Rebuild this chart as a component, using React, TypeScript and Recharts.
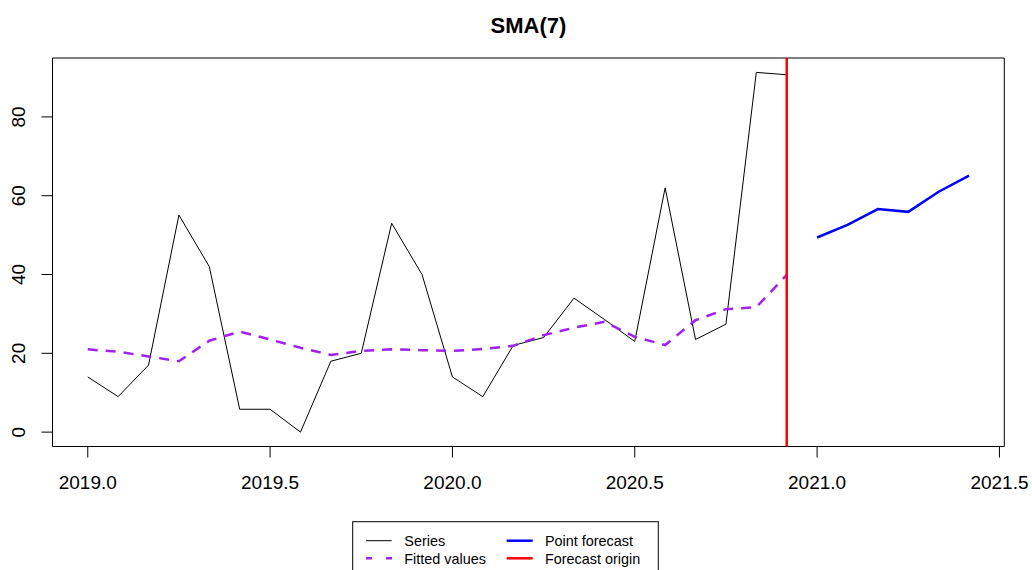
import React from 'react';
import { LineChart, Line, XAxis, YAxis, ReferenceLine, ReferenceArea } from 'recharts';

const START_YEAR = 2019;
const FREQ = 12;
const seriesValues = [14, 9, 17, 55.1, 42, 5.8, 5.8, 0, 18, 20, 53, 40, 14, 9, 22, 24, 34, 28.6, 23, 62, 23.5, 27.4, 91.3, 90.7];
const fittedValues = [21, 20.4, 19.2, 18, 23.2, 25.5, 23.5, 21.4, 19.6, 20.6, 21, 20.8, 20.6, 21.1, 21.9, 24.6, 26.5, 28, 24.2, 22.1, 28.4, 31.2, 31.7, 39.9];
const forecastValues = [49.4, 52.6, 56.6, 55.9, 61, 65.1];
const xTicks = [2019, 2019.5, 2020, 2020.5, 2021, 2021.5];
const yTicks = [0, 20, 40, 60, 80];
const legendLabels = ['Series', 'Fitted values', 'Point forecast', 'Forecast origin'];
const title = 'SMA(7)';

const timeOf = (i: number) => START_YEAR + i / FREQ;
const seriesData = seriesValues.map((v, i) => ({ t: timeOf(i), v }));
const fittedData = fittedValues.map((v, i) => ({ t: timeOf(i), v }));
const forecastData = forecastValues.map((v, i) => ({ t: timeOf(seriesValues.length + i), v }));
const forecastOrigin = timeOf(seriesValues.length - 1);

const allT = [...seriesData, ...forecastData].map((d) => d.t);
const allV = [...seriesValues, ...fittedValues, ...forecastValues];
const tMin = Math.min(...allT), tMax = Math.max(...allT);
const vMin = Math.min(...allV), vMax = Math.max(...allV);
const xDomain = [tMin - (tMax - tMin) * 0.04, tMax + (tMax - tMin) * 0.04];
const yDomain = [vMin - (vMax - vMin) * 0.04, vMax + (vMax - vMin) * 0.04];

const FONT = '"Liberation Sans", Arial, sans-serif';
const PURPLE = '#A020F0';

const XTick = (props: any) => {
  const { x, y, payload } = props;
  return (
    <text x={x} y={y + 31} textAnchor="middle" fontSize={19} fill="#000" fontFamily={FONT}>
      {Number(payload.value).toFixed(1)}
    </text>
  );
};

const YTick = (props: any) => {
  const { x, y, payload } = props;
  const bx = x - 16;
  return (
    <text x={bx} y={y} textAnchor="middle" fontSize={19} fill="#000" fontFamily={FONT} transform={`rotate(-90, ${bx}, ${y})`}>
      {payload.value}
    </text>
  );
};

export default function App() {
  return (
    <div style={{ position: 'relative', width: 1032, height: 570, overflow: 'hidden', background: '#fff' }}>
      <style>{'body{margin:0;overflow:hidden}'}</style>
      <LineChart width={1032} height={570} margin={{ top: 58, right: 27.7, bottom: 0, left: 0 }}>
        <XAxis
          type="number"
          dataKey="t"
          domain={xDomain}
          allowDataOverflow
          ticks={xTicks}
          tickSize={11}
          tickMargin={0}
          height={123.5}
          axisLine={false}
          tickLine={{ stroke: '#000', strokeWidth: 1 }}
          tick={<XTick />}
          interval={0}
        />
        <YAxis
          type="number"
          domain={yDomain}
          allowDataOverflow
          ticks={yTicks}
          tickSize={11}
          tickMargin={0}
          width={52.5}
          axisLine={false}
          tickLine={{ stroke: '#000', strokeWidth: 1 }}
          tick={<YTick />}
          interval={0}
        />
        <ReferenceArea x1={xDomain[0]} x2={xDomain[1]} y1={yDomain[0]} y2={yDomain[1]} fill="none" stroke="#000" strokeWidth={1} fillOpacity={0} ifOverflow="visible" />
        <Line data={seriesData} dataKey="v" type="linear" stroke="#000" strokeWidth={1} dot={false} isAnimationActive={false} />
        <Line data={fittedData} dataKey="v" type="linear" stroke={PURPLE} strokeWidth={2.5} strokeDasharray="10 8" dot={false} isAnimationActive={false} />
        <Line data={forecastData} dataKey="v" type="linear" stroke="#0000FF" strokeWidth={2.5} dot={false} isAnimationActive={false} />
        <ReferenceLine x={forecastOrigin} stroke="#FF0000" strokeWidth={2.5} ifOverflow="visible" />
      </LineChart>
      <svg width={1032} height={570} style={{ position: 'absolute', left: 0, top: 0, pointerEvents: 'none' }}>
        <text x={528.4} y={33} textAnchor="middle" fontSize={22} fontWeight="bold" fill="#000" fontFamily={FONT}>{title}</text>
        <rect x={352.7} y={521.7} width={305.6} height={60} fill="#fff" stroke="#000" strokeWidth={1} />
        <line x1={366} x2={391.7} y1={540.7} y2={540.7} stroke="#000" strokeWidth={1} />
        <text x={404.3} y={546} fontSize={14.4} fill="#000" fontFamily={FONT}>{legendLabels[0]}</text>
        <line x1={366} x2={392} y1={558.3} y2={558.3} stroke={PURPLE} strokeWidth={2.5} strokeDasharray="6 14" />
        <text x={404.3} y={563.6} fontSize={14.4} fill="#000" fontFamily={FONT}>{legendLabels[1]}</text>
        <line x1={506.7} x2={532.7} y1={540.7} y2={540.7} stroke="#0000FF" strokeWidth={2.5} />
        <text x={545} y={546} fontSize={14.4} fill="#000" fontFamily={FONT}>{legendLabels[2]}</text>
        <line x1={506.7} x2={532.7} y1={558.3} y2={558.3} stroke="#FF0000" strokeWidth={2.5} />
        <text x={545} y={563.6} fontSize={14.4} fill="#000" fontFamily={FONT}>{legendLabels[3]}</text>
      </svg>
    </div>
  );
}
